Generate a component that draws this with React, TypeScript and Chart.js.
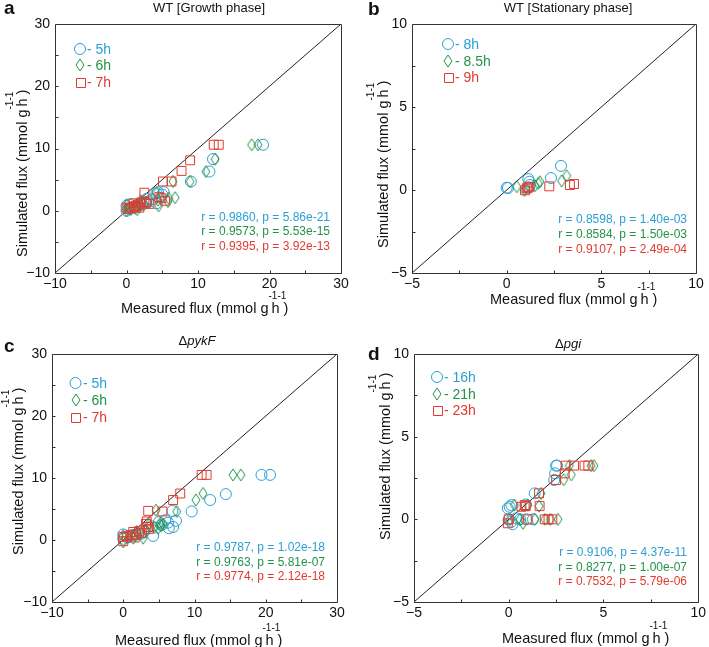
import React, { useEffect, useRef } from "react";
import { Chart, registerables } from "chart.js";
Chart.register(...registerables);

type Pt = [number, number];

const BLUE = "#2c9fd3";
const GREEN = "#23924a";
const RED = "#e03b2f";
const AXIS = "#333333";
const FONT = "'Liberation Sans', Arial, Helvetica, sans-serif";

// ---------- Panel a: WT [Growth phase] ----------
const growthLabels = ["5h", "6h", "7h"];
const growth5h: Pt[] = [
  [19.1, 10.6], [12.1, 8.3], [11.6, 6.3], [9.0, 4.7], [5.2, 3.0], [4.2, 2.8], [4.4, 3.0], [5.0, 2.6],
  [4.2, 1.2], [3.5, 1.8], [3.0, 1.5], [2.6, 1.3], [2.2, 1.0], [1.6, 0.9], [1.1, 0.7], [0.8, 0.5],
  [0.4, 0.3], [0.0, 0.0], [0.0, 0.8], [2.8, 1.9], [1.9, 1.2], [0.5, 1.0],
];
const growth6h: Pt[] = [
  [17.5, 10.6], [18.4, 10.6], [12.4, 8.3], [11.1, 6.3], [8.9, 4.7], [6.5, 4.7], [6.8, 2.1], [5.9, 2.0],
  [5.8, 1.5], [4.4, 1.7], [4.2, 2.8], [4.5, 0.8], [3.0, 1.3], [2.4, 1.0], [1.8, 0.6], [1.2, 0.4],
  [0.6, 0.2], [0.0, 0.0], [0.0, 1.0], [0.5, 0.5], [2.0, 1.6], [1.5, 0.2],
];
const growth7h: Pt[] = [
  [12.2, 10.6], [12.9, 10.6], [8.9, 8.1], [7.7, 6.4], [5.1, 4.7], [6.3, 4.7], [2.5, 2.9], [4.9, 2.0],
  [5.4, 1.6], [4.6, 2.2], [3.2, 1.1], [2.8, 1.3], [2.5, 1.4], [2.0, 1.3], [1.6, 1.0], [1.3, 0.8],
  [1.0, 1.2], [1.1, 0.6], [0.5, 0.5], [0.3, 0.3], [0.0, 0.5], [1.8, 0.5],
];
const growthStats = ["r = 0.9860, p = 5.86e-21", "r = 0.9573, p = 5.53e-15", "r = 0.9395, p = 3.92e-13"];

// ---------- Panel b: WT [Stationary phase] ----------
const stationaryLabels = ["8h", "8.5h", "9h"];
const stationary8h: Pt[] = [
  [0.0, 0.14], [0.07, 0.12], [1.14, 0.66], [1.2, 0.5], [1.23, 0.3], [1.18, 0.14], [2.34, 0.72], [2.87, 1.45],
];
const stationary85h: Pt[] = [
  [0.53, 0.2], [0.93, -0.02], [1.0, 0.1], [1.5, 0.26], [1.67, 0.4], [1.76, 0.5], [2.9, 0.55], [3.17, 0.86],
];
const stationary9h: Pt[] = [
  [0.97, -0.02], [1.06, 0.1], [1.14, 0.16], [1.2, 0.2], [2.25, 0.22], [3.34, 0.3], [3.56, 0.36],
];
const stationaryStats = ["r = 0.8598, p = 1.40e-03", "r = 0.8584, p = 1.50e-03", "r = 0.9107, p = 2.49e-04"];

// ---------- Panel c: ΔpykF ----------
const pykFLabels = ["5h", "6h", "7h"];
const pykF5h: Pt[] = [
  [19.4, 10.5], [20.6, 10.5], [14.4, 7.4], [12.2, 6.45], [9.6, 4.6], [6.9, 4.7], [7.4, 3.1], [5.9, 3.2],
  [6.3, 2.8], [7.0, 2.1], [6.4, 1.9], [5.4, 2.4], [4.2, 0.65], [3.0, 1.4], [2.5, 1.0], [1.8, 0.9],
  [1.3, 0.8], [0.6, 0.4], [0.0, 0.9], [0.0, 0.2], [4.0, 2.2], [5.0, 2.9],
];
const pykF6h: Pt[] = [
  [15.4, 10.5], [16.5, 10.5], [11.2, 7.5], [10.2, 6.45], [7.5, 4.6], [4.6, 4.8], [5.2, 2.7], [4.9, 1.9],
  [5.3, 2.3], [5.6, 2.6], [4.4, 2.0], [3.2, 1.6], [2.8, 0.3], [2.4, 1.0], [1.7, 0.7], [1.4, 0.3],
  [0.8, 0.5], [0.0, -0.3], [0.0, 0.7], [1.9, 1.4], [3.6, 2.5],
];
const pykF7h: Pt[] = [
  [11.0, 10.5], [11.7, 10.5], [8.0, 7.5], [7.0, 6.45], [3.5, 4.7], [5.5, 4.6], [3.3, 3.0], [3.5, 2.1],
  [3.6, 1.8], [2.2, 1.4], [1.4, 1.3], [1.0, 0.8], [0.0, 0.5], [0.0, -0.2], [1.8, 0.9], [2.6, 1.1],
  [0.5, 0.6], [3.2, 2.6], [1.6, 0.4],
];
const pykFStats = ["r = 0.9787, p = 1.02e-18", "r = 0.9763, p = 5.81e-07", "r = 0.9774, p = 2.12e-18"];

// ---------- Panel d: Δpgi ----------
const pgiLabels = ["16h", "21h", "23h"];
const pgi16h: Pt[] = [
  [2.5, 3.25], [2.55, 3.25], [2.45, 2.78], [2.4, 2.38], [1.37, 1.57], [0.14, 0.86], [0.05, 0.76], [-0.05, 0.66],
  [0.4, 0.06], [0.14, -0.14], [0.93, 0.0], [1.28, 0.0], [0.6, 0.0], [0.0, 0.0], [0.9, 0.9], [0.2, -0.3],
];
const pgi21h: Pt[] = [
  [4.5, 3.25], [4.35, 3.25], [3.2, 3.25], [3.3, 2.7], [2.9, 2.4], [1.7, 1.57], [1.6, 0.8], [2.6, 0.0],
  [1.9, 0.0], [1.37, 0.0], [0.75, -0.24], [0.3, 0.86], [0.05, 0.0], [1.0, 0.85], [0.6, 0.0], [2.2, 0.0],
];
const pgi23h: Pt[] = [
  [2.5, 2.38], [2.95, 2.78], [3.0, 3.25], [3.45, 3.25], [4.0, 3.25], [4.2, 3.25], [1.6, 1.57], [0.84, 0.86],
  [0.67, 0.76], [1.63, 0.8], [0.0, 0.0], [-0.05, -0.24], [2.3, 0.0], [1.9, 0.0], [1.0, 0.0], [0.9, 0.8], [2.1, 0.0],
];
const pgiStats = ["r = 0.9106, p = 4.37e-11", "r = 0.8277, p = 1.00e-07", "r = 0.7532, p = 5.79e-06"];

const COLORS = [BLUE, GREEN, RED];

interface Spec {
  letter: string;
  letterX: number; letterY: number;
  title: { text: string; italic: boolean }[];
  titleX: number; titleY: number;
  canvas: { left: number; top: number; width: number; height: number };
  padTop: number; padRight: number; yWidth: number; xHeight: number;
  min: number; max: number; step: number; labelStep: number;
  series: Pt[][]; labels: string[]; stats: string[];
  legX: number; legYs: number[]; legTextX: number;
  statsRight: number; statsYs: number[];
  xLabelX: number; xLabelY: number;
  yLabelX: number; yLabelY: number;
}

const specs: Spec[] = [
  {
    letter: "a", letterX: 4, letterY: 14,
    title: [{ text: "WT [Growth phase]", italic: false }], titleX: 209, titleY: 8,
    canvas: { left: 0, top: 0, width: 355, height: 320 },
    padTop: 24, padRight: 14, yWidth: 55, xHeight: 47,
    min: -10, max: 30, step: 5, labelStep: 10,
    series: [growth5h, growth6h, growth7h], labels: growthLabels, stats: growthStats,
    legX: 80, legYs: [49, 65, 82], legTextX: 87,
    statsRight: 330, statsYs: [218, 232, 247],
    xLabelX: 121, xLabelY: 313, yLabelX: 27, yLabelY: 257,
  },
  {
    letter: "b", letterX: 13, letterY: 15,
    title: [{ text: "WT [Stationary phase]", italic: false }], titleX: 213, titleY: 8,
    canvas: { left: 355, top: 0, width: 354, height: 320 },
    padTop: 24, padRight: 13, yWidth: 57, xHeight: 47,
    min: -5, max: 10, step: 2.5, labelStep: 5,
    series: [stationary8h, stationary85h, stationary9h], labels: stationaryLabels, stats: stationaryStats,
    legX: 93, legYs: [44, 61, 77], legTextX: 100,
    statsRight: 332, statsYs: [220, 235, 250],
    xLabelX: 135, xLabelY: 304, yLabelX: 33, yLabelY: 248,
  },
  {
    letter: "c", letterX: 4, letterY: 32,
    title: [{ text: "Δ", italic: false }, { text: "pykF", italic: true }], titleX: 197, titleY: 21,
    canvas: { left: 0, top: 320, width: 355, height: 327 },
    padTop: 34, padRight: 18, yWidth: 52, xHeight: 45,
    min: -10, max: 30, step: 5, labelStep: 10,
    series: [pykF5h, pykF6h, pykF7h], labels: pykFLabels, stats: pykFStats,
    legX: 75.5, legYs: [63, 80, 97], legTextX: 83,
    statsRight: 325, statsYs: [228, 243, 257],
    xLabelX: 115, xLabelY: 325, yLabelX: 23, yLabelY: 235,
  },
  {
    letter: "d", letterX: 13, letterY: 40,
    title: [{ text: "Δ", italic: false }, { text: "pgi", italic: true }], titleX: 213, titleY: 24,
    canvas: { left: 355, top: 320, width: 354, height: 327 },
    padTop: 34, padRight: 10, yWidth: 59, xHeight: 45,
    min: -5, max: 10, step: 2.5, labelStep: 5,
    series: [pgi16h, pgi21h, pgi23h], labels: pgiLabels, stats: pgiStats,
    legX: 82, legYs: [57, 74, 90], legTextX: 89,
    statsRight: 332, statsYs: [233, 248, 262],
    xLabelX: 147, xLabelY: 323, yLabelX: 35, yLabelY: 220,
  },
];

function makeDiamond(color: string): HTMLCanvasElement {
  const c = document.createElement("canvas");
  c.width = 10;
  c.height = 14;
  const g = c.getContext("2d")!;
  g.strokeStyle = color;
  g.lineWidth = 1;
  g.beginPath();
  g.moveTo(5, 1);
  g.lineTo(9, 7);
  g.lineTo(5, 13);
  g.lineTo(1, 7);
  g.closePath();
  g.stroke();
  return c;
}

function fmt(v: number): string {
  return v < 0 ? "\u2212" + Math.abs(v) : String(v);
}

function drawFluxLabel(ctx: CanvasRenderingContext2D, prefix: string, x: number, y: number) {
  const main = `14.5px ${FONT}`;
  const sup = `10px ${FONT}`;
  const raise = 14;
  ctx.textAlign = "left";
  ctx.textBaseline = "alphabetic";
  ctx.font = main;
  const t1 = prefix + " (mmol g";
  ctx.fillText(t1, x, y);
  x += ctx.measureText(t1).width;
  ctx.font = sup;
  ctx.fillText("-1", x, y - raise);
  x += 3;
  ctx.font = main;
  ctx.fillText("h", x, y);
  x += ctx.measureText("h").width;
  ctx.font = sup;
  ctx.fillText("-1", x - 2, y - raise);
  x += 4;
  ctx.font = main;
  ctx.fillText(")", x, y);
}

function PanelChart({ spec }: { spec: Spec }) {
  const ref = useRef<HTMLCanvasElement | null>(null);
  useEffect(() => {
    const canvas = ref.current!;
    const diamonds = COLORS.map((c) => makeDiamond(c));
    const styles: any[] = ["circle", null, "rect"];
    const radii = [5.5, 6, 6.3];

    const overlay = {
      id: "overlay",
      afterDraw(chart: any) {
        const ctx: CanvasRenderingContext2D = chart.ctx;
        const ca = chart.chartArea;
        const xs = chart.scales.x;
        const ys = chart.scales.y;
        ctx.save();
        // frame
        ctx.strokeStyle = AXIS;
        ctx.lineWidth = 1;
        const L = Math.round(ca.left) + 0.5, T = Math.round(ca.top) + 0.5;
        const R = Math.round(ca.right) + 0.5, B = Math.round(ca.bottom) + 0.5;
        ctx.beginPath();
        ctx.rect(L, T, R - L, B - T);
        for (const t of xs.ticks) {
          const px = Math.round(xs.getPixelForValue(t.value)) + 0.5;
          ctx.moveTo(px, B);
          ctx.lineTo(px, B - 3);
        }
        for (const t of ys.ticks) {
          const py = Math.round(ys.getPixelForValue(t.value)) + 0.5;
          ctx.moveTo(L, py);
          ctx.lineTo(L + 3, py);
        }
        ctx.stroke();

        // panel letter
        ctx.fillStyle = "#111";
        ctx.font = `bold 19px ${FONT}`;
        ctx.textAlign = "left";
        ctx.textBaseline = "alphabetic";
        ctx.fillText(spec.letter, spec.letterX, spec.letterY);

        // title
        ctx.textBaseline = "middle";
        let tw = 0;
        for (const p of spec.title) {
          ctx.font = `${p.italic ? "italic " : ""}13px ${FONT}`;
          tw += ctx.measureText(p.text).width;
        }
        let tx = spec.titleX - tw / 2;
        for (const p of spec.title) {
          ctx.font = `${p.italic ? "italic " : ""}13px ${FONT}`;
          ctx.fillText(p.text, tx, spec.titleY);
          tx += ctx.measureText(p.text).width;
        }

        // legend
        spec.labels.forEach((lab, i) => {
          const cy = spec.legYs[i];
          const cx = spec.legX;
          ctx.strokeStyle = COLORS[i];
          ctx.lineWidth = 1;
          ctx.beginPath();
          if (i === 0) {
            ctx.arc(cx, cy, 5.5, 0, Math.PI * 2);
            ctx.stroke();
          } else if (i === 1) {
            ctx.drawImage(diamonds[i], Math.round(cx - 5), Math.round(cy - 7));
          } else {
            ctx.rect(Math.round(cx - 4.5) + 0.5, Math.round(cy - 4.5) + 0.5, 9, 9);
            ctx.stroke();
          }
          ctx.fillStyle = COLORS[i];
          ctx.font = `14px ${FONT}`;
          ctx.textAlign = "left";
          ctx.textBaseline = "middle";
          ctx.fillText("- " + lab, spec.legTextX, cy + 1);
        });

        // stats
        spec.stats.forEach((s, i) => {
          ctx.fillStyle = COLORS[i];
          ctx.font = `12px ${FONT}`;
          ctx.textAlign = "right";
          ctx.textBaseline = "middle";
          ctx.fillText(s, spec.statsRight, spec.statsYs[i]);
        });

        // axis labels
        ctx.fillStyle = "#111";
        drawFluxLabel(ctx, "Measured flux", spec.xLabelX, spec.xLabelY);
        ctx.save();
        ctx.translate(spec.yLabelX, spec.yLabelY);
        ctx.rotate(-Math.PI / 2);
        drawFluxLabel(ctx, "Simulated flux", 0, 0);
        ctx.restore();

        ctx.restore();
      },
    };

    const datasets: any[] = spec.series.map((pts, i) => ({
      type: "scatter",
      label: spec.labels[i],
      data: pts.map(([x, y]) => ({ x, y })),
      pointStyle: i === 1 ? diamonds[i] : styles[i],
      pointRadius: radii[i],
      pointBorderColor: COLORS[i],
      pointBackgroundColor: "rgba(0,0,0,0)",
      pointBorderWidth: 1,
      showLine: false,
      order: 3 - i,
    }));
    datasets.push({
      type: "line",
      label: "identity",
      data: [
        { x: spec.min, y: spec.min },
        { x: spec.max, y: spec.max },
      ],
      borderColor: "#222",
      borderWidth: 1,
      pointRadius: 0,
      fill: false,
      order: 10,
    });

    const tickCb = (v: any) => {
      const n = Number(v);
      const r = n / spec.labelStep;
      return Math.abs(r - Math.round(r)) < 1e-9 ? fmt(n) : "";
    };

    const chart = new Chart(canvas, {
      type: "scatter",
      data: { datasets },
      options: {
        responsive: false,
        animation: false,
        devicePixelRatio: 1,
        layout: { padding: { left: 0, top: spec.padTop, right: spec.padRight, bottom: 0 } },
        plugins: {
          legend: { display: false },
          tooltip: { enabled: false },
          title: { display: false },
        },
        scales: {
          x: {
            type: "linear",
            min: spec.min,
            max: spec.max,
            ticks: {
              stepSize: spec.step,
              autoSkip: false,
              maxRotation: 0,
              padding: 3,
              color: "#111",
              font: { family: FONT, size: 14 },
              callback: tickCb,
            },
            grid: { display: false, drawTicks: false },
            border: { display: false },
            afterFit: (s: any) => {
              s.height = spec.xHeight;
            },
          },
          y: {
            type: "linear",
            min: spec.min,
            max: spec.max,
            ticks: {
              stepSize: spec.step,
              autoSkip: false,
              padding: 5,
              color: "#111",
              font: { family: FONT, size: 14 },
              callback: tickCb,
            },
            grid: { display: false, drawTicks: false },
            border: { display: false },
            afterFit: (s: any) => {
              s.width = spec.yWidth;
            },
          },
        },
      } as any,
      plugins: [overlay],
    });
    return () => chart.destroy();
  }, [spec]);

  return (
    <canvas
      ref={ref}
      width={spec.canvas.width}
      height={spec.canvas.height}
      style={{
        position: "absolute",
        left: spec.canvas.left,
        top: spec.canvas.top,
        width: spec.canvas.width,
        height: spec.canvas.height,
      }}
    />
  );
}

export default function App() {
  return (
    <div style={{ position: "absolute", left: 0, top: 0, width: 709, height: 647, background: "#fff" }}>
      {specs.map((s) => (
        <PanelChart key={s.letter} spec={s} />
      ))}
    </div>
  );
}
